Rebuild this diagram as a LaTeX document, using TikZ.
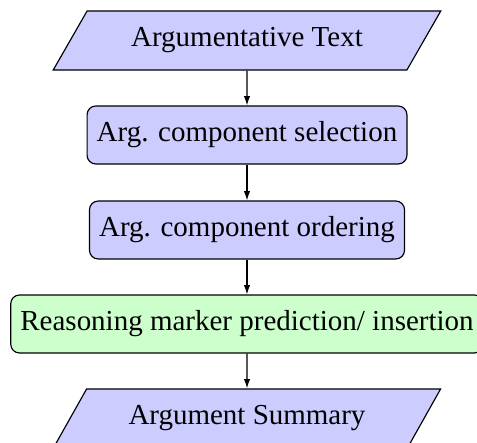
\documentclass[tikz,border=0pt]{standalone}
\usepackage{fontspec}
\setmainfont{Liberation Serif}
\usetikzlibrary{shapes.geometric, arrows.meta}

\begin{document}
\begin{tikzpicture}[x=0.345pt, y=-0.345pt,
      io/.style={trapezium, trapezium left angle=67, trapezium right angle=113, trapezium stretches=true,
        draw, fill=blue!20, minimum width=134pt, minimum height=20.4pt, inner xsep=0pt, inner ysep=5.6pt},
      process/.style={draw, rounded corners=3pt, fill=blue!20, minimum height=20pt, align=center},
      marker/.style={process, fill=green!20},
      arr/.style={-{Latex[length=3.2pt, width=2.2pt]}, line width=0.4pt}
    ]
      \useasboundingbox (0,0) rectangle (477,443);
      \node[io]      (text)    at (247,40.5)  {Argumentative Text};
      \node[process] (select)  at (247,135)   {Arg. component selection};
      \node[process] (order)   at (247,230)   {Arg. component ordering};
      \node[marker]  (reason)  at (247,324)   {Reasoning marker prediction/ insertion};
      \node[io]      (summary) at (247,418.5) {Argument Summary};

      \draw[arr] (text)   -- (select);
      \draw[arr] (select) -- (order);
      \draw[arr] (order)  -- (reason);
      \draw[arr] (reason) -- (summary);
    \end{tikzpicture}
\end{document}
